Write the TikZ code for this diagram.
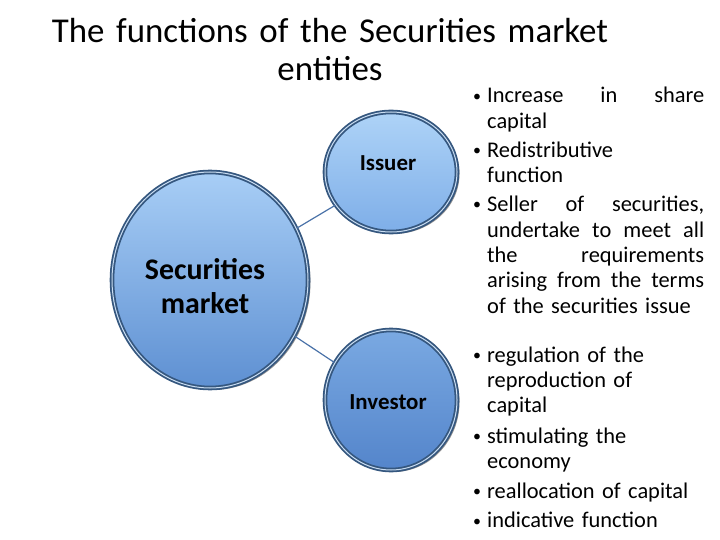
\documentclass[tikz,border=0pt]{standalone}
\usepackage{fontspec}
\setmainfont{Carlito}
\usetikzlibrary{shapes.geometric,shadows}
\definecolor{ring}{HTML}{35577F}
\definecolor{ringlight}{HTML}{C9DDF2}
\definecolor{link}{HTML}{4A72A8}
\definecolor{smtop}{HTML}{A8CEF6}
\definecolor{smbot}{HTML}{5E90D2}
\definecolor{istop}{HTML}{AED3F7}
\definecolor{isbot}{HTML}{7EAEE8}
\definecolor{intop}{HTML}{7AA9E2}
\definecolor{inbot}{HTML}{5485CB}
\newlength\lineW
\setlength\lineW{217bp}
\newcommand\bul{\makebox[14bp][l]{\raisebox{1.8bp}{\fontsize{16}{16}\selectfont\textbullet}}}
\newcommand\ind{\hspace*{14bp}}
\newcommand\jline[1]{\makebox[\lineW][l]{#1}}
\begin{document}
\begin{tikzpicture}[x=1bp,y=-1bp,
  circ/.style={ellipse, draw=ring, double=ringlight, double distance=1bp,
    line width=1.8bp, inner sep=0pt,
    drop shadow={shadow xshift=2.5bp, shadow yshift=-2bp, opacity=0.5, fill=black!85}},
  circtext/.style={font=\bfseries\fontsize{23}{27}\selectfont, text=black},
  listtext/.style={anchor=base west, text width=250bp, align=left, inner sep=0pt,
    font=\fontsize{22.5}{25.5}\selectfont},
  linkline/.style={draw=link, line width=1.2bp}]
\useasboundingbox (0,0) rectangle (720,540);

\node[anchor=base, text width=700bp, align=center, inner sep=0pt,
  font=\fontsize{35}{38}\selectfont] (title) at (330,43)
  {The functions of the Securities market\\entities};

\node[circ, minimum width=196bp, minimum height=216bp,
  top color=smtop, bottom color=smbot] (sm) at (210,280) {};
\node[circ, minimum width=132bp, minimum height=120bp,
  top color=istop, bottom color=isbot] (iss) at (391,172) {};
\node[circ, minimum width=132bp, minimum height=140bp,
  top color=intop, bottom color=inbot] (inv) at (391,400) {};

\draw[linkline] (sm) -- (iss);
\draw[linkline] (sm) -- (inv);

\node[font=\bfseries\fontsize{30}{34}\selectfont, align=center, inner sep=0pt] (smt) at (205,286)
  {Securities\\market};
\node[circtext] (isst) at (388,163) {Issuer};
\node[circtext] (invt) at (388,402) {Investor};

\node[listtext] (islist) at (473,103) {%
\bul\jline{Increase\hfill in\hfill share}\\
\ind capital\\[3.5bp]
\bul Redistributive\\
\ind function\\[3.5bp]
\bul\jline{Seller\hfill of\hfill securities,}\\
\ind\jline{undertake\hfill to\hfill meet\hfill all}\\
\ind\jline{the\hfill requirements}\\
\ind\jline{arising\hfill from\hfill the\hfill terms}\\
\ind of the securities issue};

\node[listtext] (invlist) at (473,362) {%
\bul regulation of the\\
\ind reproduction of\\
\ind capital\\[5bp]
\bul stimulating the\\
\ind economy\\[4bp]
\bul reallocation of capital\\[4.5bp]
\bul indicative function};
\end{tikzpicture}
\end{document}
